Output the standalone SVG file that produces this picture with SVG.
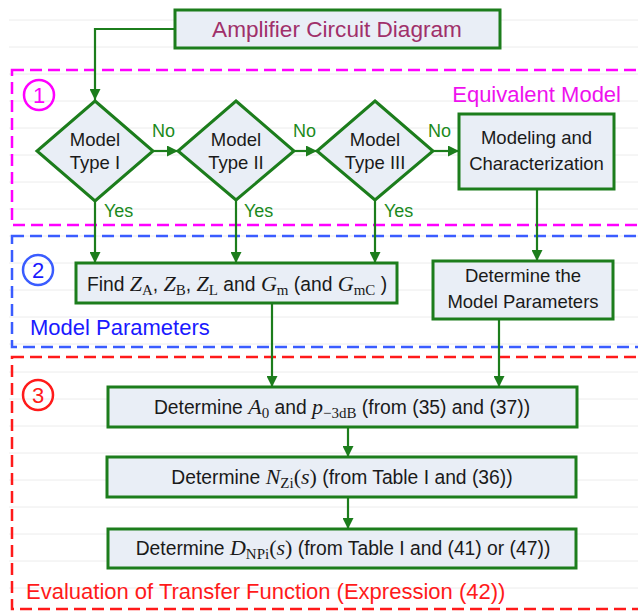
<svg xmlns="http://www.w3.org/2000/svg" width="638" height="612" viewBox="0 0 638 612">
<style>
.grid line{stroke:#ececec;stroke-width:1}
.box{fill:#e9eef6;stroke:#1c7d1c;stroke-width:3}
.t{font-family:"Liberation Sans",Arial,sans-serif;font-size:18.5px;fill:#1a1a1a;text-anchor:middle}
.b{font-size:19.3px}
.m{font-family:"Liberation Serif","Times New Roman",serif;font-style:italic;font-size:22px}
.s{font-family:"Liberation Serif","Times New Roman",serif;font-style:normal;font-size:15px}
.g{font-family:"Liberation Sans",Arial,sans-serif;font-size:18px;fill:#1c8a1c}
.conn path{fill:none;stroke:#1c7d1c;stroke-width:2.2}
.lbl{font-family:"Liberation Sans",Arial,sans-serif;font-size:22px}
</style>
<defs>
<marker id="ah" viewBox="0 0 10 10" refX="10" refY="5" markerWidth="5" markerHeight="5" orient="auto" markerUnits="strokeWidth">
<path d="M0,0 L10,5 L0,10 z" fill="#1c7d1c"/>
</marker>
</defs>
<rect width="638" height="612" fill="#ffffff"/>
<g class="grid">
<line x1="9" y1="20" x2="638" y2="20"/><line x1="9" y1="47" x2="638" y2="47"/><line x1="9" y1="74" x2="638" y2="74"/><line x1="9" y1="101" x2="638" y2="101"/><line x1="9" y1="128" x2="638" y2="128"/><line x1="9" y1="155" x2="638" y2="155"/><line x1="9" y1="182" x2="638" y2="182"/><line x1="9" y1="209" x2="638" y2="209"/><line x1="9" y1="236" x2="638" y2="236"/><line x1="9" y1="263" x2="638" y2="263"/><line x1="9" y1="290" x2="638" y2="290"/><line x1="9" y1="317" x2="638" y2="317"/><line x1="9" y1="344" x2="638" y2="344"/><line x1="9" y1="372" x2="638" y2="372"/><line x1="9" y1="399" x2="638" y2="399"/><line x1="9" y1="426" x2="638" y2="426"/><line x1="9" y1="453" x2="638" y2="453"/><line x1="9" y1="480" x2="638" y2="480"/><line x1="9" y1="507" x2="638" y2="507"/><line x1="9" y1="534" x2="638" y2="534"/><line x1="9" y1="561" x2="638" y2="561"/><line x1="9" y1="588" x2="638" y2="588"/>
</g>
<g id="region1">
<rect x="12" y="70" width="640" height="155" fill="none" stroke="#ff00ff" stroke-width="2.5" stroke-dasharray="12 6"/>
<circle cx="39" cy="95" r="15" fill="none" stroke="#ff00ff" stroke-width="2.5"/>
<text x="39" y="103" class="lbl" fill="#ff00ff" text-anchor="middle">1</text>
<text x="621" y="102" class="lbl" fill="#ee11ee" text-anchor="end">Equivalent Model</text>
</g>
<g id="region2">
<rect x="12" y="236" width="640" height="111" fill="none" stroke="#3a5cff" stroke-width="2.5" stroke-dasharray="12 6"/>
<circle cx="38" cy="270" r="15" fill="none" stroke="#3a5cff" stroke-width="2.5"/>
<text x="38" y="278" class="lbl" fill="#1a1aff" text-anchor="middle">2</text>
<text x="30" y="335" class="lbl" fill="#1a1aff" font-size="22.5">Model Parameters</text>
</g>
<g id="region3">
<rect x="12" y="357" width="640" height="252" fill="none" stroke="#ff1a1a" stroke-width="2.5" stroke-dasharray="12 6"/>
<circle cx="38" cy="395" r="15" fill="none" stroke="#ff1a1a" stroke-width="2.5"/>
<text x="38" y="403" class="lbl" fill="#ff1a1a" text-anchor="middle">3</text>
<text x="26" y="599" class="lbl" fill="#ff1a1a" font-size="24.2">Evaluation of Transfer Function (Expression (42))</text>
</g>
<g class="conn">
<path d="M174,29 H95 V100" marker-end="url(#ah)"/>
<path d="M153,151 H178" marker-end="url(#ah)"/>
<path d="M294,151 H317" marker-end="url(#ah)"/>
<path d="M433,151 H459" marker-end="url(#ah)"/>
<path d="M95,201 V263" marker-end="url(#ah)"/>
<path d="M236,200 V263" marker-end="url(#ah)"/>
<path d="M375,200 V263" marker-end="url(#ah)"/>
<path d="M537,189 V261" marker-end="url(#ah)"/>
<path d="M272,303 V387" marker-end="url(#ah)"/>
<path d="M499,319 V387" marker-end="url(#ah)"/>
<path d="M348,427 V457" marker-end="url(#ah)"/>
<path d="M348,497 V529" marker-end="url(#ah)"/>
</g>
<g id="labels">
<text x="152" y="137" class="g">No</text>
<text x="293" y="137" class="g">No</text>
<text x="428" y="137" class="g">No</text>
<text x="104" y="217" class="g">Yes</text>
<text x="244" y="217" class="g">Yes</text>
<text x="384" y="217" class="g">Yes</text>
</g>
<g id="amp">
<rect x="175" y="10" width="325" height="38" class="box"/>
<text x="337" y="37" class="t" style="fill:#a0306a;font-size:22.6px">Amplifier Circuit Diagram</text>
</g>
<g id="type1">
<path d="M95,101 L153,151 L95,201 L37,151 Z" class="box"/>
<text x="95" y="146" class="t">Model</text>
<text x="95" y="169" class="t">Type I</text>
</g>
<g id="type2">
<path d="M236,101 L294,151 L236,200 L178,151 Z" class="box"/>
<text x="236" y="146" class="t">Model</text>
<text x="236" y="169" class="t">Type II</text>
</g>
<g id="type3">
<path d="M375,101 L433,151 L375,200 L317,151 Z" class="box"/>
<text x="375" y="146" class="t">Model</text>
<text x="375" y="169" class="t">Type III</text>
</g>
<g id="modeling">
<rect x="459" y="114" width="155" height="75" class="box"/>
<text x="536.5" y="144" class="t">Modeling and</text>
<text x="536.5" y="170" class="t">Characterization</text>
</g>
<g id="find">
<rect x="76" y="263" width="321" height="40" class="box"/>
<text x="237" y="291" class="t b">Find <tspan class="m">Z</tspan><tspan class="s" dy="4">A</tspan><tspan dy="-4">, </tspan><tspan class="m">Z</tspan><tspan class="s" dy="4">B</tspan><tspan dy="-4">, </tspan><tspan class="m">Z</tspan><tspan class="s" dy="4">L</tspan><tspan dy="-4"> and </tspan><tspan class="m">G</tspan><tspan class="s" dy="4">m</tspan><tspan dy="-4"> (and </tspan><tspan class="m">G</tspan><tspan class="s" dy="4">mC</tspan><tspan dy="-4"> )</tspan></text>
</g>
<g id="params">
<rect x="433" y="261" width="180" height="58" class="box"/>
<text x="523" y="282" class="t">Determine the</text>
<text x="523" y="308" class="t">Model Parameters</text>
</g>
<g id="a0">
<rect x="108" y="387" width="469" height="40" class="box"/>
<text x="342" y="414" class="t b">Determine <tspan class="m">A</tspan><tspan class="s" font-size="17" dy="4">0</tspan><tspan dy="-4"> and </tspan><tspan class="m" font-size="28">p</tspan><tspan class="s" font-size="17" dy="4">−3dB</tspan><tspan dy="-4"> (from (35) and (37))</tspan></text>
</g>
<g id="nzi">
<rect x="107" y="457" width="469" height="40" class="box"/>
<text x="342" y="484" class="t b">Determine <tspan class="m">N</tspan><tspan class="s" font-size="17" dy="4">Zi</tspan><tspan dy="-4" style="font-family:'Liberation Serif',serif" font-size="22">(<tspan class="m">s</tspan>)</tspan> (from Table I and (36))</text>
</g>
<g id="dnpi">
<rect x="108" y="529" width="468" height="39" class="box"/>
<text x="343" y="555" class="t b">Determine <tspan class="m">D</tspan><tspan class="s" font-size="17" dy="4">NPi</tspan><tspan dy="-4" style="font-family:'Liberation Serif',serif" font-size="22">(<tspan class="m">s</tspan>)</tspan> (from Table I and (41) or (47))</text>
</g>
</svg>
